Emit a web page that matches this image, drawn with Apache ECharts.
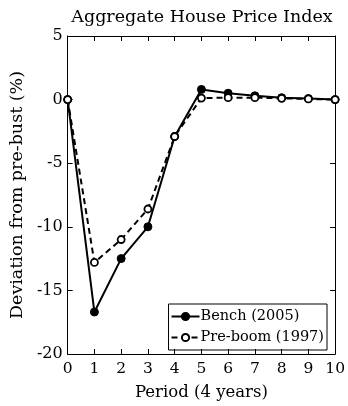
<!DOCTYPE html>
<html><head><meta charset="utf-8">
<script src="https://cdn.jsdelivr.net/npm/echarts@6/dist/echarts.min.js"></script>
<style>html,body{margin:0;padding:0;background:#fff}#c{width:348px;height:406px}</style>
</head><body><div id="c"></div>
<script>
const periods = ['0','1','2','3','4','5','6','7','8','9','10'];
const benchValues = [0, -16.7, -12.5, -10.0, -2.9, 0.8, 0.5, 0.3, 0.15, 0.08, 0];
const preboomValues = [0, -12.8, -11.0, -8.6, -2.9, 0.12, 0.15, 0.15, 0.1, 0.05, 0];
const yTicks = [-20, -15, -10, -5, 0, 5];
const FONT = 'DejaVu Serif';

const chart = echarts.init(document.getElementById('c'), null, {renderer:'canvas'});
const benchData = benchValues.map((v,i)=>[i,v]);
const preData = preboomValues.map((v,i)=>[i,v]);
const axisCommon = {
  axisLine:{show:true,onZero:false,lineStyle:{color:'#000',width:1}},
  axisTick:{show:true,inside:true,length:5,lineStyle:{color:'#000'}},
  splitLine:{show:false}
};
chart.setOption({
  animation:false,
  backgroundColor:'#fff',
  title:{text:'Aggregate House Price Index',left:197,textAlign:'center',top:3,
    textStyle:{fontFamily:FONT,fontSize:17.5,fontWeight:'normal',color:'#000'}},
  grid:{left:66,right:11,top:36,bottom:50},
  legend:{
    orient:'vertical',right:21,bottom:56,
    borderColor:'#000',borderWidth:1,padding:[5,3,5,2],itemGap:6,
    itemWidth:28,itemHeight:9,
    textStyle:{fontFamily:FONT,fontSize:14.5,color:'#000',padding:[0,0,0,-4]},
    data:['Bench (2005)','Pre-boom (1997)']
  },
  xAxis:[
    Object.assign({type:'value',min:0,max:10,interval:1,position:'bottom',
      name:'Period (4 years)',nameLocation:'middle',nameGap:30,
      nameTextStyle:{fontFamily:FONT,fontSize:16.5,color:'#000'},
      axisLabel:{fontFamily:FONT,fontSize:15.5,color:'#000',margin:7,
        formatter:v=>periods[v]}},axisCommon),
    Object.assign({type:'value',min:0,max:10,interval:1,position:'top',
      axisLabel:{show:false}},axisCommon)
  ],
  yAxis:[
    Object.assign({type:'value',min:-20,max:5,interval:5,position:'left',
      name:'Deviation from pre-bust (%)',nameLocation:'middle',nameGap:34,
      nameTextStyle:{fontFamily:FONT,fontSize:17.5,color:'#000'},
      axisLabel:{fontFamily:FONT,fontSize:16,color:'#000',margin:5,
        formatter:v=>yTicks.includes(v)?String(v):''}},axisCommon),
    Object.assign({type:'value',min:-20,max:5,interval:5,position:'right',
      axisLabel:{show:false}},axisCommon)
  ],
  series:[
    {name:'Bench (2005)',type:'line',data:benchData,symbol:'circle',symbolSize:8,
      lineStyle:{color:'#000',width:2},
      itemStyle:{color:'#000',borderColor:'#000',borderWidth:1}},
    {name:'Pre-boom (1997)',type:'line',data:preData,symbol:'circle',symbolSize:7,
      lineStyle:{color:'#000',width:2,type:[6,4]},
      itemStyle:{color:'#fff',borderColor:'#000',borderWidth:1.8}}
  ]
});
</script></body></html>
